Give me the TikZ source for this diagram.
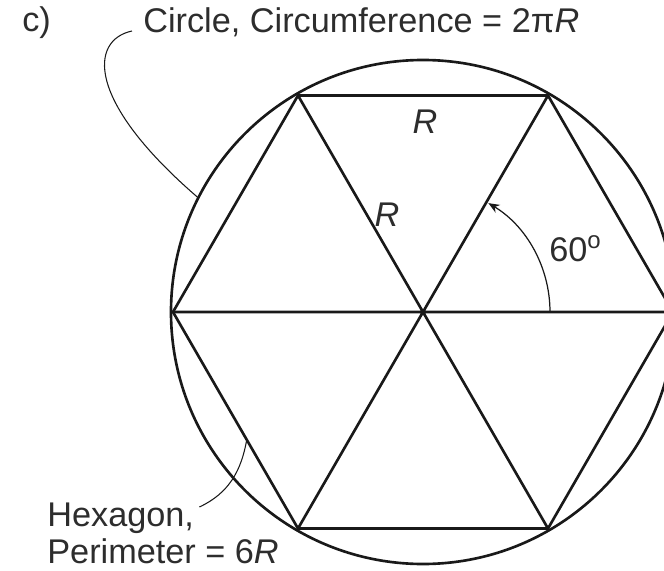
\documentclass[tikz,border=0pt]{standalone}
\usepackage{fontspec}
\setmainfont{Liberation Sans}
\definecolor{inkdark}{RGB}{25,25,25}
\definecolor{textgray}{RGB}{45,45,45}
\usetikzlibrary{arrows.meta,calc}
\begin{document}
\begin{tikzpicture}[
      lbl/.style={font=\fontsize{19.5}{22}\selectfont,text=textgray,
                  inner sep=0pt,anchor=base west},
      thk/.style={line width=1.5pt,color=inkdark,line join=round},
      ld/.style={line width=0.6pt,color=inkdark},
      ang/.style={line width=0.7pt,color=inkdark,
                  -{Stealth[length=2.2mm,width=1.8mm]}}]
      \useasboundingbox (-8.46,-5.16) rectangle (4.82,6.24);
      \clip (-8.46,-5.16) rectangle (4.82,6.24);
      % circle and hexagon
      \node[thk,draw,circle,minimum size=10.08cm,inner sep=0pt] (circ) at (0,0) {};
      \foreach \i in {0,...,5} \coordinate (h\i) at (60*\i:5);
      \draw[thk] (h0) -- (h1) -- (h2) -- (h3) -- (h4) -- (h5) -- cycle;
      \draw[thk] (h0) -- (h3) (h1) -- (h4) (h2) -- (h5);
      % labels
      \node[lbl] (tag) at (-8.02,5.6) {c)};
      \node[lbl] (lblcirc) at (-5.6,5.58) {Circle, Circumference = 2π\textit{R}};
      \node[lbl] (lblhex) at (-7.52,-4.28) {Hexagon,};
      \node[lbl] (lblper) at (-7.52,-5.02) {Perimeter = 6\textit{R}};
      \node[lbl,anchor=center] (rtop) at (0.04,3.8) {\textit{R}};
      \node[lbl,anchor=center] (rmid) at (-0.72,1.94) {\textit{R}};
      \node[lbl] (deg) at (2.52,1.0) {60\textsuperscript{o}};
      % leaders
      \draw[ld] ($(lblcirc.base west)+(-0.22,0.04)$) .. controls (-6.66,5.44) and (-6.76,4.24) .. (circ.153);
      \draw[ld] ($(lblhex.base east)+(0.1,0.38)$) to[out=25,in=-100] ($(h3)!0.59!(h4)$);
      \draw[ang] (2.54,0) arc[start angle=0,end angle=59,radius=2.54];
\end{tikzpicture}
\end{document}
